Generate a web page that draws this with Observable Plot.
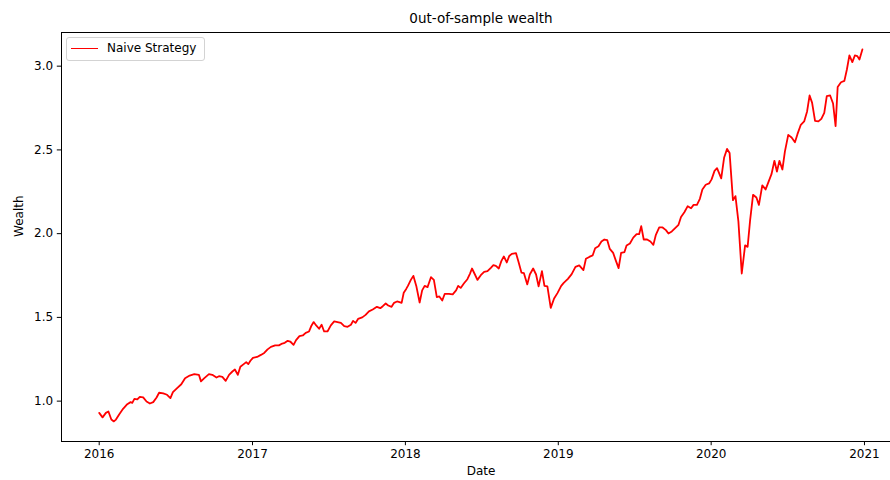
<!DOCTYPE html>
<html>
<head>
<meta charset="utf-8">
<script src="https://cdn.jsdelivr.net/npm/d3@7"></script>
<script src="https://cdn.jsdelivr.net/npm/@observablehq/plot@0.6"></script>
<style>
  html, body { margin: 0; padding: 0; background: #fff; overflow: hidden; }
  #wrap { position: relative; width: 890px; height: 480px; overflow: hidden; font-family: "DejaVu Sans", sans-serif; }
  #chart svg { max-width: none !important; display: block; }
  #legend {
    position: absolute; left: 66px; top: 37px; width: 137px; height: 22px;
    border: 1px solid #d3d3d3; border-radius: 3px; background: rgba(255,255,255,0.8);
    font-size: 12px; color: #000;
  }
  #legend .swatch { position: absolute; left: 4px; top: 9.5px; width: 27px; height: 1.8px; background: #ff0000; }
  #legend .label { position: absolute; left: 40px; top: 3px; line-height: 14px; white-space: nowrap; }
</style>
</head>
<body>
<div id="wrap">
  <div id="chart"></div>
  <div id="legend"><div class="swatch"></div><div class="label">Naive Strategy</div></div>
</div>
<script>
// Weekly out-of-sample wealth of the naive (1/N) strategy, 2016–2020
const dates = [
  "2016-01-01","2016-01-09","2016-01-17","2016-01-23","2016-01-30","2016-02-05","2016-02-10","2016-02-18","2016-02-27","2016-03-08",
  "2016-03-16","2016-03-20","2016-03-25","2016-04-01","2016-04-07","2016-04-15","2016-04-23","2016-05-01","2016-05-09","2016-05-17",
  "2016-05-23","2016-06-02","2016-06-11","2016-06-19","2016-06-25","2016-07-05","2016-07-15","2016-07-24","2016-08-04","2016-08-15",
  "2016-08-26","2016-08-31","2016-09-08","2016-09-19","2016-09-27","2016-10-07","2016-10-13","2016-10-21","2016-10-29","2016-11-06",
  "2016-11-14","2016-11-20","2016-11-27","2016-12-03","2016-12-11","2016-12-17","2016-12-22","2016-12-27",
  "2017-01-02","2017-01-12","2017-01-21","2017-01-29","2017-02-06","2017-02-14","2017-02-24","2017-03-05","2017-03-13","2017-03-19",
  "2017-03-26","2017-04-01","2017-04-09","2017-04-15","2017-04-23","2017-05-01","2017-05-08","2017-05-16","2017-05-22","2017-05-27",
  "2017-06-02","2017-06-09","2017-06-15","2017-06-21","2017-06-29","2017-07-07","2017-07-15","2017-07-23","2017-07-31","2017-08-08",
  "2017-08-16","2017-08-24","2017-08-29","2017-09-04","2017-09-10","2017-09-20","2017-09-28","2017-10-06","2017-10-15","2017-10-25",
  "2017-11-02","2017-11-08","2017-11-15","2017-11-21","2017-11-29","2017-12-05","2017-12-12","2017-12-18","2017-12-23","2017-12-28",
  "2018-01-03","2018-01-07","2018-01-14","2018-01-20","2018-01-27","2018-02-04","2018-02-10","2018-02-16","2018-02-23","2018-03-03",
  "2018-03-10","2018-03-17","2018-03-23","2018-03-30","2018-04-05","2018-04-15","2018-04-24","2018-05-02","2018-05-07","2018-05-13",
  "2018-05-21","2018-05-29","2018-06-04","2018-06-09","2018-06-16","2018-06-22","2018-06-30","2018-07-08","2018-07-16","2018-07-24",
  "2018-07-30","2018-08-05","2018-08-12","2018-08-18","2018-08-24","2018-08-31","2018-09-06","2018-09-12","2018-09-22","2018-09-28",
  "2018-10-05","2018-10-11","2018-10-19","2018-10-25","2018-11-02","2018-11-09","2018-11-15","2018-11-23","2018-11-29","2018-12-06",
  "2018-12-14","2018-12-22","2018-12-30",
  "2019-01-08","2019-01-14","2019-01-24","2019-02-02","2019-02-11","2019-02-20","2019-03-02","2019-03-08","2019-03-16","2019-03-24",
  "2019-03-30","2019-04-07","2019-04-14","2019-04-21","2019-04-28","2019-05-04","2019-05-12","2019-05-18","2019-05-25","2019-05-31",
  "2019-06-08","2019-06-13","2019-06-21","2019-06-29","2019-07-07","2019-07-13","2019-07-18","2019-07-24","2019-08-01","2019-08-09",
  "2019-08-16","2019-08-22","2019-08-30","2019-09-07","2019-09-15","2019-09-21","2019-09-29","2019-10-07","2019-10-15","2019-10-21",
  "2019-10-29","2019-11-06","2019-11-14","2019-11-20","2019-11-28","2019-12-05","2019-12-11","2019-12-19","2019-12-27",
  "2020-01-02","2020-01-09","2020-01-15","2020-01-25","2020-02-01","2020-02-08","2020-02-14","2020-02-22","2020-02-28","2020-03-06",
  "2020-03-14","2020-03-22","2020-03-28","2020-04-03","2020-04-10","2020-04-18","2020-04-24","2020-05-02","2020-05-10","2020-05-16",
  "2020-05-24","2020-05-31","2020-06-06","2020-06-12","2020-06-19","2020-06-25","2020-07-03","2020-07-11","2020-07-19","2020-07-25",
  "2020-08-02","2020-08-10","2020-08-17","2020-08-23","2020-08-29","2020-09-05","2020-09-13","2020-09-20","2020-09-27","2020-10-03",
  "2020-10-11","2020-10-18","2020-10-24","2020-10-29","2020-11-06","2020-11-14","2020-11-20","2020-11-26","2020-12-03","2020-12-09",
  "2020-12-15","2020-12-20","2020-12-27"
];

const wealth = [
  0.930,0.903,0.930,0.938,0.890,0.879,0.890,0.922,0.954,0.982,
  0.994,0.990,1.014,1.010,1.026,1.022,0.998,0.986,0.994,1.022,
  1.050,1.046,1.038,1.018,1.054,1.078,1.101,1.137,1.153,1.161,
  1.157,1.118,1.137,1.161,1.157,1.141,1.149,1.145,1.121,1.157,
  1.177,1.189,1.157,1.205,1.221,1.233,1.221,1.241,
  1.258,1.264,1.276,1.288,1.309,1.324,1.333,1.333,1.344,1.348,
  1.360,1.356,1.336,1.364,1.388,1.392,1.408,1.416,1.452,1.472,
  1.452,1.432,1.456,1.416,1.416,1.452,1.476,1.472,1.467,1.448,
  1.444,1.456,1.479,1.467,1.491,1.500,1.515,1.536,1.547,1.563,
  1.555,1.567,1.583,1.571,1.563,1.587,1.595,1.591,1.587,1.647,
  1.670,1.688,1.724,1.748,1.688,1.589,1.661,1.688,1.681,1.740,
  1.724,1.621,1.625,1.601,1.641,1.641,1.637,1.661,1.688,1.676,
  1.704,1.728,1.760,1.792,1.756,1.724,1.752,1.772,1.776,1.796,
  1.812,1.808,1.792,1.836,1.864,1.828,1.867,1.879,1.884,1.832,
  1.768,1.764,1.697,1.756,1.792,1.756,1.685,1.776,1.688,1.685,
  1.557,1.613,1.645,
  1.688,1.706,1.730,1.758,1.802,1.810,1.782,1.850,1.861,1.870,
  1.913,1.925,1.953,1.965,1.961,1.909,1.885,1.842,1.794,1.885,
  1.890,1.929,1.941,1.976,1.997,1.997,2.045,1.965,1.965,1.953,
  1.933,1.993,2.037,2.037,2.021,2.001,2.013,2.033,2.053,2.100,
  2.128,2.164,2.152,2.172,2.172,2.208,2.264,2.292,2.300,
  2.324,2.375,2.391,2.330,2.455,2.506,2.482,2.200,2.224,2.073,
  1.762,1.930,1.921,2.081,2.232,2.216,2.172,2.288,2.264,2.303,
  2.355,2.435,2.371,2.435,2.383,2.490,2.590,2.574,2.546,2.594,
  2.650,2.670,2.730,2.825,2.781,2.673,2.670,2.685,2.721,2.821,
  2.825,2.777,2.642,2.876,2.904,2.912,2.980,3.064,3.024,3.064,
  3.060,3.040,3.100
];

const xTicks = ["2016-01-01","2017-01-01","2018-01-01","2019-01-01","2020-01-01","2021-01-01"];
const yTicks = [1.0, 1.5, 2.0, 2.5, 3.0];
const title = "0ut-of-sample wealth";
const xLabel = "Date";
const yLabel = "Wealth";

const data = dates.map((d, i) => ({date: new Date(d), wealth: wealth[i]}));

const chart = Plot.plot({
  width: 900,
  height: 480,
  marginLeft: 61,
  marginRight: 0,
  marginTop: 32,
  marginBottom: 39,
  style: {fontFamily: "DejaVu Sans", fontSize: "12px", color: "#000", background: "#fff", overflow: "visible", maxWidth: "none"},
  x: {type: "utc", domain: [new Date("2015-10-03"), new Date("2021-03-28")]},
  y: {domain: [0.759, 3.201]},
  marks: [
    Plot.axisX({ticks: xTicks.map(d => new Date(d)), tickFormat: "%Y", tickSize: 4.2, tickPadding: 4.2, strokeWidth: 1, label: null}),
    Plot.axisY({ticks: yTicks, tickFormat: ".1f", tickSize: 4.2, tickPadding: 4.2, strokeWidth: 1, label: null}),
    Plot.lineY(data, {x: "date", y: "wealth", stroke: "#ff0000", strokeWidth: 1.8}),
    Plot.frame({stroke: "#000", strokeWidth: 1}),
    Plot.text([title], {text: d => d, frameAnchor: "top", lineAnchor: "middle", dy: -14, fontSize: 13.5}),
    Plot.text([xLabel], {text: d => d, frameAnchor: "bottom", lineAnchor: "middle", dy: 30, fontSize: 12}),
    Plot.text([yLabel], {text: d => d, frameAnchor: "left", dx: -42, rotate: -90, fontSize: 12})
  ]
});

document.getElementById("chart").appendChild(chart);
</script>
</body>
</html>
